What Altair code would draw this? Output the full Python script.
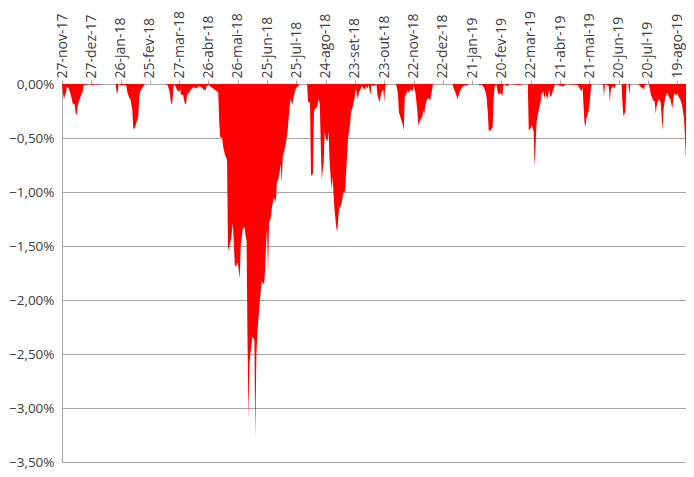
import altair as alt
import pandas as pd

start_date = "2017-11-27"
end_date = "2019-08-28"

# days after 27-nov-17
day_offsets = [
    0, 1, 2, 4, 5, 7, 9, 11, 13, 14, 15, 16, 17, 19, 20, 21, 22, 24, 28, 32, 34, 38, 39,
    55, 56, 57, 58, 60, 64, 66, 67, 69, 70, 72, 73, 75, 76, 78, 79, 80, 82, 85,
    107, 108, 110, 111, 112, 113, 114, 115, 117, 119, 121, 122, 124, 126, 127, 128, 130,
    132, 135, 138, 140, 143, 145, 147, 148, 150, 153, 156, 159,
    160, 161, 162, 164, 165, 167, 169, 170, 171, 173, 175, 177, 178, 180, 182, 183, 185,
    187, 188, 189, 190, 191, 192, 193, 195, 197, 198, 199, 200, 202, 204, 205, 207, 208,
    209, 210, 211, 212, 214, 215, 217, 219, 220, 222, 224, 225, 226, 229, 231, 232, 234,
    236, 237, 239, 241, 242, 243,
    251, 252, 254, 255, 257, 258, 259, 261, 263, 264, 265, 266, 267, 268, 269, 270, 272,
    273, 274, 276, 277, 278, 279, 281, 282, 283, 284, 286, 288, 290, 291, 292, 293, 295,
    296, 298, 300, 301, 302, 303, 304, 307, 310, 311, 313, 314, 316, 317, 319, 322, 323,
    325, 327, 329, 330, 331, 334,
    342, 344, 345, 347, 349, 350, 351, 354, 355, 357, 359, 360, 362, 364, 365, 367, 369,
    370, 371, 372, 374, 375, 377, 379, 380,
    400, 401, 403, 405, 407, 409, 411, 413, 414, 416, 427, 428, 429, 432, 434, 435, 436,
    437, 439, 441, 442, 443, 445, 446, 447, 449, 451, 452, 453, 456, 458, 470, 471,
    477, 478, 480, 481, 483, 484, 485, 486, 488, 490, 491, 493, 494, 495, 497, 499, 500,
    501, 502, 505, 512, 514, 516, 528, 530, 532, 533, 535, 536, 537, 539, 540, 542, 543,
    554, 555, 556, 560, 561, 562, 564, 566, 567, 573, 574, 575, 577, 578, 580, 581, 582,
    590, 591, 593, 595, 596, 597, 601, 603, 605, 606, 607, 608, 609, 611, 613, 614, 615,
    616, 618, 620, 622, 623, 625, 626, 627, 629, 630, 632, 633, 635, 637, 638, 639,
]

# drawdown in percent
drawdown = [
    0.00, -0.08, -0.14, -0.08, -0.03, -0.04, -0.10, -0.18, -0.19, -0.27, -0.29, -0.21, -0.17,
    -0.12, -0.09, -0.08, -0.01, -0.01, 0.00, -0.01, 0.00, -0.01, 0.00,
    0.00, -0.08, -0.08, 0.00, -0.01, -0.01, -0.02, -0.08, -0.13, -0.14, -0.24, -0.42, -0.40,
    -0.36, -0.31, -0.14, -0.07, -0.04, 0.00,
    0.00, -0.01, -0.06, -0.13, -0.19, -0.17, -0.03, 0.00, -0.04, -0.07, -0.05, -0.10, -0.10,
    -0.19, -0.18, -0.10, -0.08, -0.05, -0.03, -0.04, -0.02, -0.03, -0.05, -0.06, -0.02,
    -0.01, -0.03, -0.05, -0.07,
    -0.08, -0.35, -0.49, -0.50, -0.58, -0.66, -0.70, -1.53, -1.52, -1.44, -1.29, -1.68,
    -1.69, -1.65, -1.80, -1.50, -1.35, -1.32, -1.41, -1.45, -2.40, -3.09, -2.58, -2.49,
    -2.34, -2.37, -3.27, -2.52, -2.31, -2.07, -1.86, -1.83, -1.86, -1.71, -1.47, -1.35,
    -1.74, -1.29, -1.23, -1.14, -1.05, -1.09, -0.92, -0.86, -0.74, -0.92, -0.68, -0.56,
    -0.44, -0.32, -0.14, -0.19, -0.13, -0.05, -0.02, -0.02, 0.00,
    0.00, -0.17, -0.17, -0.85, -0.83, -0.26, -0.23, -0.22, -0.14, -0.19, -0.56, -0.89,
    -0.80, -0.71, -0.44, -0.50, -0.53, -0.44, -0.71, -0.98, -0.86, -1.01, -1.16, -1.34,
    -1.36, -1.22, -1.15, -1.12, -1.01, -0.99, -0.80, -0.65, -0.50, -0.37, -0.26, -0.20,
    -0.11, -0.04, -0.10, -0.14, -0.08, -0.02, -0.05, -0.02, -0.04, -0.01, -0.10, -0.01,
    -0.02, 0.00, -0.10, -0.17, -0.08, -0.05, -0.17, -0.01, 0.00,
    0.00, -0.08, -0.26, -0.32, -0.38, -0.43, -0.12, -0.06, -0.08, -0.05, -0.07, -0.01,
    -0.08, -0.26, -0.39, -0.33, -0.30, -0.24, -0.28, -0.20, -0.14, -0.13, -0.15, -0.05, 0.00,
    0.00, -0.04, -0.08, -0.14, -0.08, -0.04, -0.02, -0.01, -0.02, 0.00, 0.00, -0.02, 0.00,
    -0.03, -0.08, -0.14, -0.26, -0.43, -0.43, -0.40, -0.14, -0.02, -0.01, -0.07, -0.10,
    -0.08, -0.11, -0.01, 0.00, -0.02, 0.00, -0.01, 0.00,
    0.00, -0.43, -0.41, -0.38, -0.44, -0.77, -0.56, -0.35, -0.25, -0.17, -0.10, -0.07,
    -0.14, -0.08, -0.14, -0.05, -0.11, -0.12, -0.08, 0.00, -0.02, -0.02, 0.00, -0.01,
    -0.04, -0.07, -0.02, -0.35, -0.40, -0.32, -0.26, -0.20, -0.01, 0.00,
    0.00, -0.11, 0.00, -0.02, -0.17, -0.05, -0.02, -0.04, 0.00, 0.00, -0.19, -0.30, -0.25,
    0.00, 0.00, -0.10, 0.00,
    0.00, -0.01, -0.03, -0.04, -0.05, -0.01, 0.00, -0.10, -0.14, -0.16, -0.16, -0.28, -0.20,
    -0.14, -0.17, -0.29, -0.43, -0.23, -0.11, -0.08, -0.13, -0.14, -0.23, -0.14, -0.08,
    -0.11, -0.08, -0.13, -0.14, -0.20, -0.32, -0.50, -0.70,
]

tick_dates = [
    "2017-11-27", "2017-12-27", "2018-01-26", "2018-02-25", "2018-03-27", "2018-04-26",
    "2018-05-26", "2018-06-25", "2018-07-25", "2018-08-24", "2018-09-23", "2018-10-23",
    "2018-11-22", "2018-12-22", "2019-01-21", "2019-02-20", "2019-03-22", "2019-04-21",
    "2019-05-21", "2019-06-20", "2019-07-20", "2019-08-19",
]
y_ticks = [0.0, -0.5, -1.0, -1.5, -2.0, -2.5, -3.0, -3.5]

assert len(day_offsets) == len(drawdown), (len(day_offsets), len(drawdown))

dates = (pd.Timestamp(start_date) + pd.to_timedelta(day_offsets, unit="D")).strftime("%Y-%m-%d")
df = pd.DataFrame({"date": list(dates), "drawdown": drawdown})


def to_ms(d):
    return int(pd.Timestamp(d, tz="UTC").timestamp() * 1000)


tick_ms = [to_ms(d) for d in tick_dates]

month_expr = ("utcFormat(datum.value, '%d') + '-' + "
              "['jan','fev','mar','abr','mai','jun','jul','ago','set','out','nov','dez']"
              "[utcmonth(datum.value)] + '-' + utcFormat(datum.value, '%y')")

FONT = "Open Sans"

chart = alt.Chart(df).mark_area(color="#FF0000", interpolate="linear").encode(
    x=alt.X(
        "date:T",
        scale=alt.Scale(type="utc", domain=[to_ms(start_date), to_ms(end_date)], nice=False),
        axis=alt.Axis(
            orient="top", title=None, values=tick_ms, labelExpr=month_expr,
            labelAngle=270, grid=False, domainColor="#A6A6A6", tickColor="#A6A6A6",
            tickSize=4, labelPadding=2, labelFont=FONT, labelFontSize=14,
            labelColor="#404040", labelOverlap=False, labelFlush=False,
        ),
    ),
    y=alt.Y(
        "drawdown:Q",
        scale=alt.Scale(domain=[-3.5, 0], nice=False, zero=False),
        axis=alt.Axis(
            title=None, values=y_ticks,
            labelExpr="replace(format(datum.value, '.2f'), '.', ',') + '%'",
            grid=True, gridColor="#A6A6A6", gridWidth=1, ticks=False,
            domainColor="#A6A6A6", labelPadding=8, labelFont=FONT, labelFontSize=13.5,
            labelColor="#404040",
        ),
    ),
).properties(
    width=624,
    height=378,
    autosize=alt.AutoSizeParams(type="none"),
    padding={"left": 54, "top": 76, "right": 0, "bottom": 7},
).configure_view(stroke=None)

chart.save("out.html", embed_options={"renderer": "svg", "actions": False})
